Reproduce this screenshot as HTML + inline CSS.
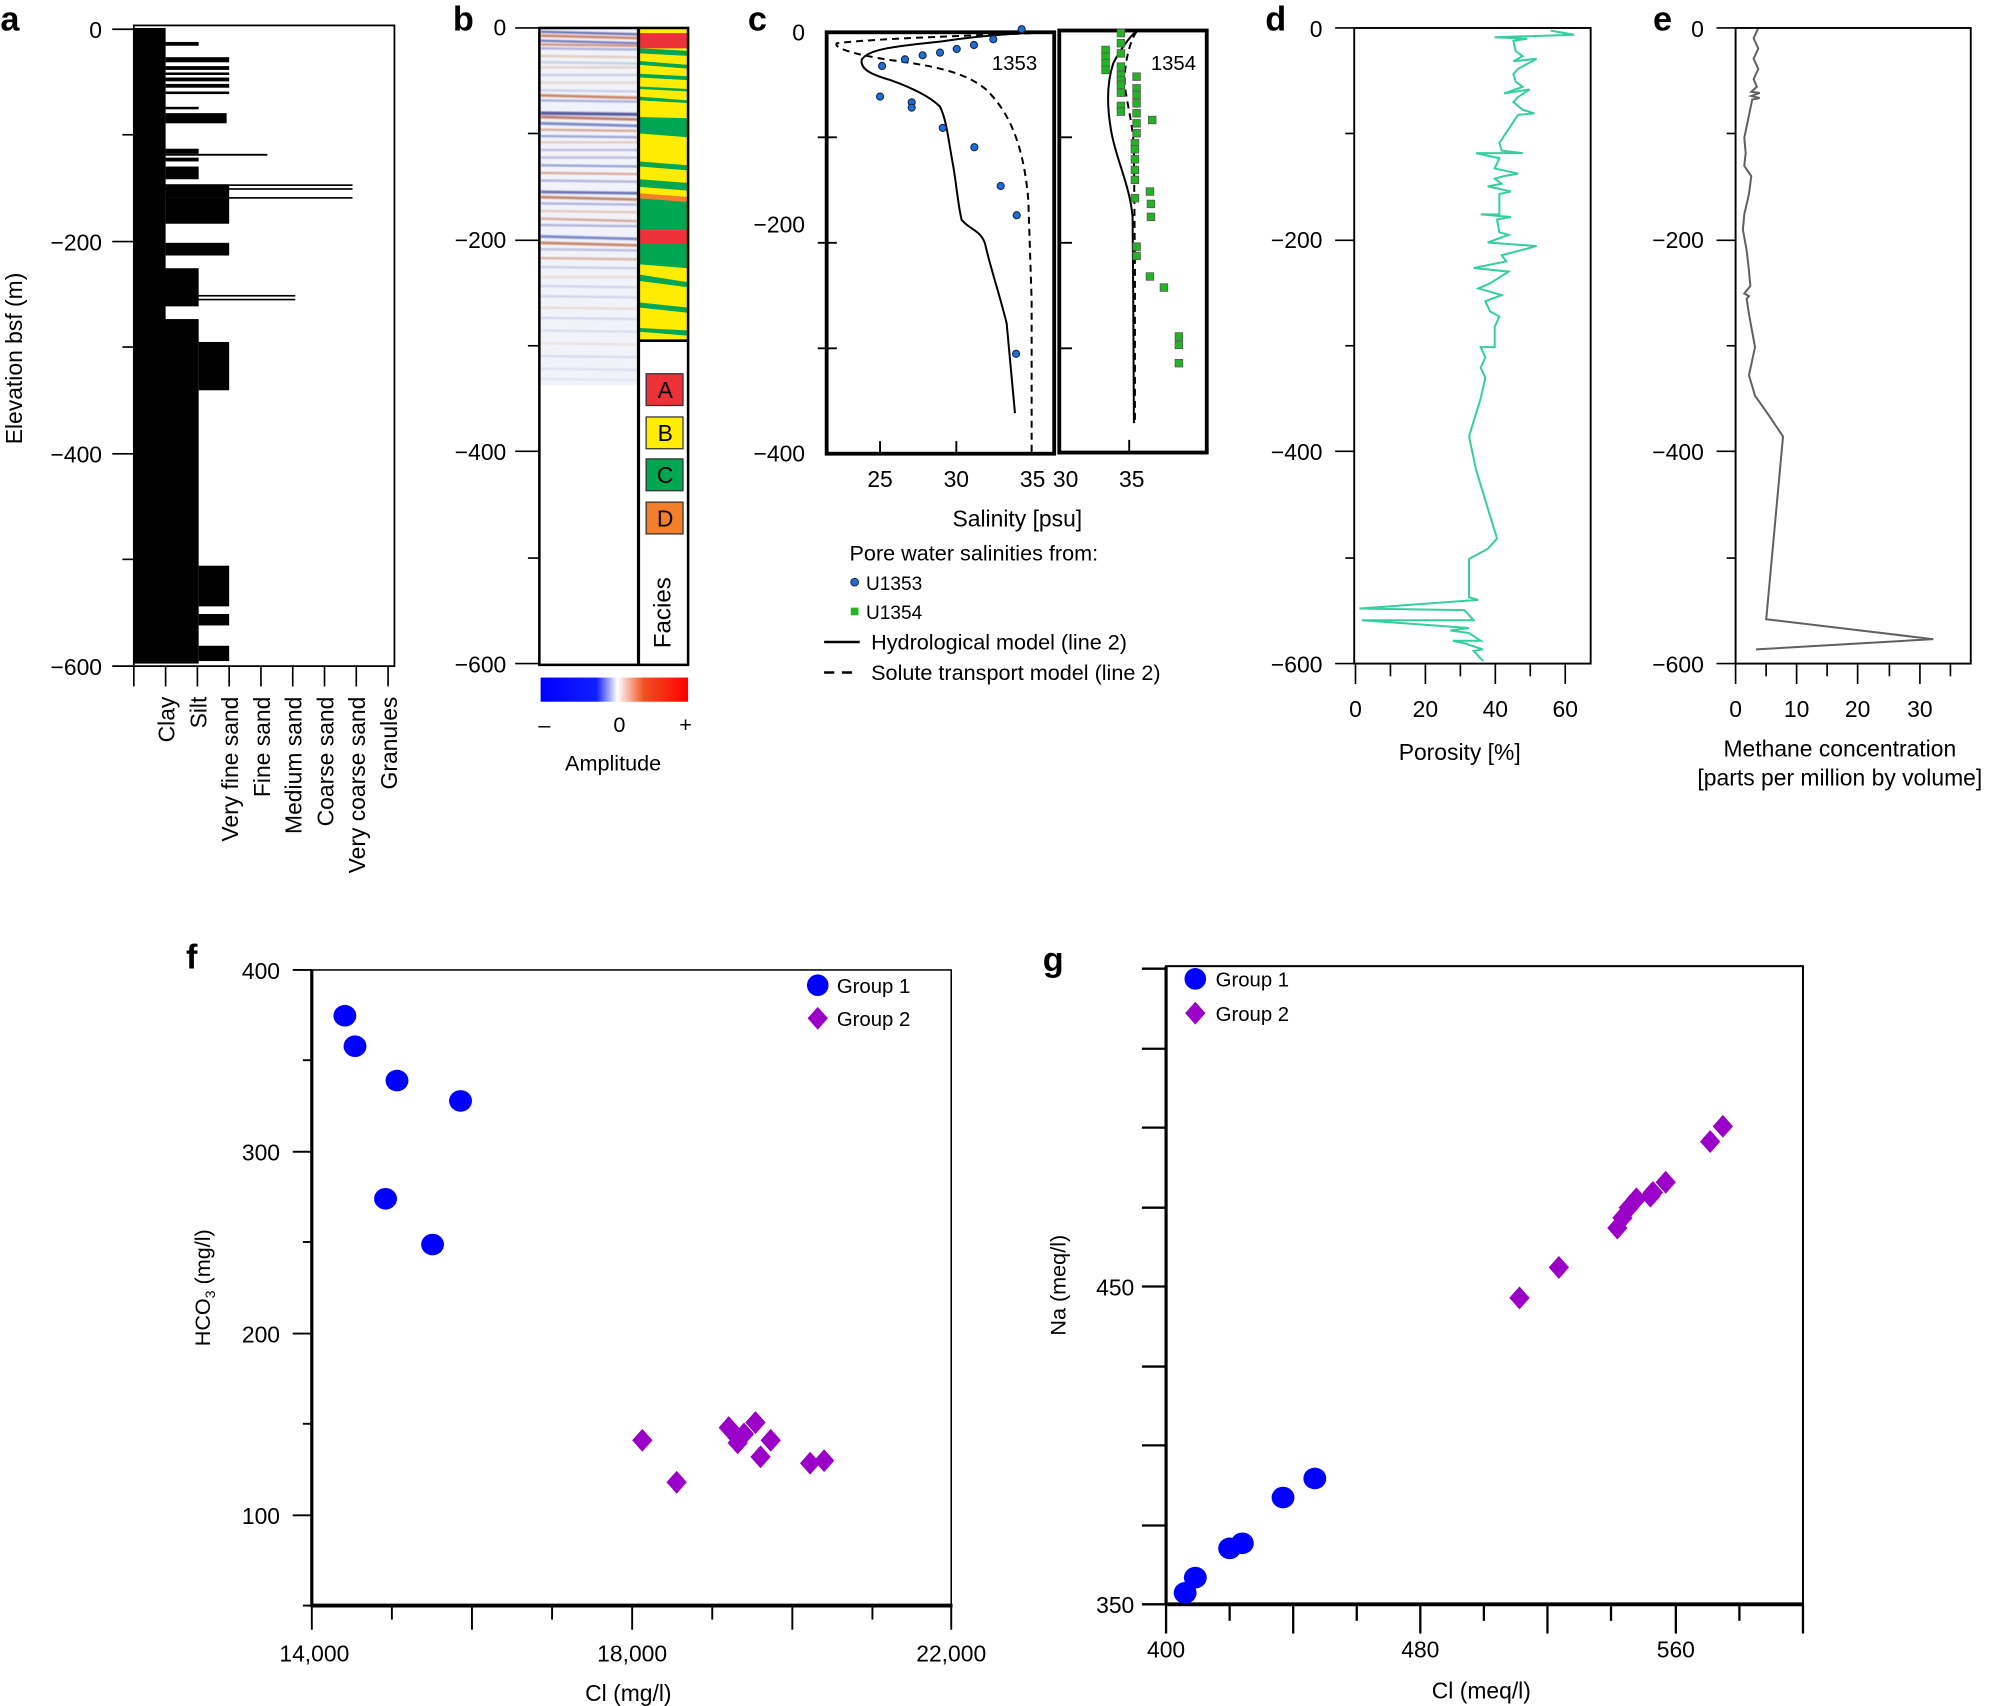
<!DOCTYPE html>
<html><head><meta charset="utf-8"><style>
html,body{margin:0;padding:0;background:#fff}
svg{display:block}
text{font-family:"Liberation Sans",Arial,sans-serif;fill:#000}
.n{font-family:"Liberation Sans Narrow","Liberation Sans",sans-serif;font-stretch:condensed}
</style></head><body>
<svg width="1994" height="1706" viewBox="0 0 1568 1342" xmlns="http://www.w3.org/2000/svg">
<defs>
<linearGradient id="cb" x1="0" x2="1" y1="0" y2="0">
<stop offset="0" stop-color="#0000ff"/><stop offset="0.38" stop-color="#1020ff"/><stop offset="0.52" stop-color="#ffffff"/><stop offset="0.7" stop-color="#f05020"/><stop offset="1" stop-color="#ff0000"/>
</linearGradient>
<filter id="bl" x="-5%" y="-5%" width="110%" height="110%"><feGaussianBlur stdDeviation="0.7"/></filter>
</defs>
<!-- letters -->
<g font-weight="bold" font-size="27">
<text x="0" y="24">a</text><text x="356" y="24">b</text><text x="588" y="24">c</text><text x="995" y="24">d</text><text x="1300" y="24">e</text><text x="146" y="762">f</text><text x="820" y="764">g</text>
</g>

<!-- PANEL A -->
<g fill="#000">
<rect x="105" y="22" width="25" height="498"/>
<rect x="105" y="251" width="51" height="271"/>
<rect x="105" y="211" width="51" height="30"/>
<rect x="130" y="33" width="26" height="3"/>
<rect x="130" y="45" width="50" height="4"/>
<rect x="130" y="52" width="50" height="3"/>
<rect x="130" y="57" width="50" height="2"/>
<rect x="130" y="61" width="50" height="3"/>
<rect x="130" y="66" width="50" height="3"/>
<rect x="130" y="72" width="50" height="2"/>
<rect x="130" y="84" width="26" height="2"/>
<rect x="130" y="89" width="48" height="8"/>
<rect x="130" y="117" width="26" height="4"/>
<rect x="130" y="121" width="80" height="1.5"/>
<rect x="130" y="124" width="26" height="3"/>
<rect x="130" y="131" width="26" height="10"/>
<rect x="130" y="145" width="50" height="10"/>
<rect x="130" y="145" width="147" height="1.3"/>
<rect x="130" y="148" width="147" height="1.3"/>
<rect x="105" y="155" width="172" height="1.3"/>
<rect x="130" y="156" width="50" height="20"/>
<rect x="130" y="191" width="50" height="10"/>
<rect x="130" y="232" width="102" height="1.3"/>
<rect x="130" y="235" width="102" height="1.3"/>
<rect x="156" y="269" width="24" height="38"/>
<rect x="156" y="445" width="24" height="32"/>
<rect x="156" y="483" width="24" height="9"/>
<rect x="156" y="508" width="24" height="12"/>
</g>
<rect x="105" y="20" width="205" height="504" fill="none" stroke="#000" stroke-width="1.4"/>
<g stroke="#000" stroke-width="1.3">
<line x1="88" y1="23" x2="105" y2="23"/><line x1="96" y1="106" x2="105" y2="106"/><line x1="88" y1="190" x2="105" y2="190"/><line x1="96" y1="273" x2="105" y2="273"/><line x1="88" y1="357" x2="105" y2="357"/><line x1="96" y1="440" x2="105" y2="440"/><line x1="88" y1="524" x2="105" y2="524"/>
<line x1="105" y1="524" x2="105" y2="540"/><line x1="130" y1="524" x2="130" y2="540"/><line x1="155" y1="524" x2="155" y2="540"/><line x1="180" y1="524" x2="180" y2="540"/><line x1="205" y1="524" x2="205" y2="540"/><line x1="230" y1="524" x2="230" y2="540"/><line x1="255" y1="524" x2="255" y2="540"/><line x1="280" y1="524" x2="280" y2="540"/><line x1="305" y1="524" x2="305" y2="540"/>
</g>
<g font-size="18" text-anchor="end">
<text x="80" y="30">0</text><text x="80" y="197">−200</text><text x="80" y="364">−400</text><text x="80" y="531">−600</text>
</g>
<text transform="translate(17,282) rotate(-90)" font-size="18" text-anchor="middle">Elevation bsf (m)</text>
<g font-size="18" text-anchor="end">
<text transform="translate(137,548) rotate(-90)">Clay</text>
<text transform="translate(162,548) rotate(-90)">Silt</text>
<text transform="translate(187,548) rotate(-90)">Very fine sand</text>
<text transform="translate(212,548) rotate(-90)">Fine sand</text>
<text transform="translate(237,548) rotate(-90)">Medium sand</text>
<text transform="translate(262,548) rotate(-90)">Coarse sand</text>
<text transform="translate(287,548) rotate(-90)">Very coarse sand</text>
<text transform="translate(312,548) rotate(-90)">Granules</text>
</g>

<!-- PANEL B -->
<rect x="425" y="23" width="77" height="280" fill="#f2f3fa"/>
<g stroke-width="1.6" fill="none" filter="url(#bl)" opacity="0.8">
<path d="M425 25 L502 27" stroke="#303a90"/><path d="M425 28 L502 30" stroke="#c0603a" stroke-width="2"/>
<path d="M425 32 L502 34" stroke="#404aa0"/><path d="M425 35 L502 36" stroke="#c06a4a"/>
<path d="M425 38 L502 39" stroke="#6870b8" stroke-opacity=".7"/><path d="M425 44 L502 45" stroke="#d09070" stroke-opacity=".6"/>
<path d="M425 49 L502 50" stroke="#8088c0" stroke-opacity=".5"/><path d="M425 53 L502 53" stroke="#d09070" stroke-opacity=".5"/>
<path d="M425 59 L502 59" stroke="#8088c0" stroke-opacity=".5"/><path d="M425 65 L502 65" stroke="#d0a080" stroke-opacity=".5"/>
<path d="M425 71 L502 72" stroke="#8088c0" stroke-opacity=".5"/><path d="M425 75 L502 77" stroke="#b8603a" stroke-width="2"/>
<path d="M425 79 L502 80" stroke="#6870b8" stroke-opacity=".7"/>
<path d="M425 89 L502 90" stroke="#252d80" stroke-width="2.5"/><path d="M425 92 L502 94" stroke="#b0503a" stroke-width="2"/>
<path d="M425 97 L502 99" stroke="#5060b0" stroke-width="2"/><path d="M425 102 L502 103" stroke="#c07050" stroke-opacity=".8"/>
<path d="M425 107 L502 108" stroke="#5a64b0" stroke-opacity=".8"/><path d="M425 112 L502 112" stroke="#d09070" stroke-opacity=".6"/>
<path d="M425 118 L502 118" stroke="#7078b8" stroke-opacity=".6"/><path d="M425 124 L502 124" stroke="#7078b8" stroke-opacity=".6"/>
<path d="M425 130 L502 131" stroke="#5060b0" stroke-opacity=".8"/><path d="M425 136 L502 137" stroke="#c07050" stroke-opacity=".8"/>
<path d="M425 142 L502 143" stroke="#6870b8" stroke-opacity=".7"/><path d="M425 151 L502 152" stroke="#3a4498" stroke-width="2"/>
<path d="M425 155 L502 157" stroke="#b0603a" stroke-width="2"/><path d="M425 160 L502 161" stroke="#6870b8" stroke-opacity=".7"/>
<path d="M425 166 L502 167" stroke="#d09070" stroke-opacity=".6"/><path d="M425 172 L502 174" stroke="#c07050" stroke-opacity=".8"/>
<path d="M425 177 L502 178" stroke="#6870b8" stroke-opacity=".7"/><path d="M425 186 L502 188" stroke="#5060b0" stroke-width="2"/>
<path d="M425 191 L502 193" stroke="#b8603a" stroke-width="2"/><path d="M425 196 L502 197" stroke="#7078b8" stroke-opacity=".6"/>
<path d="M425 203 L502 204" stroke="#c07050" stroke-opacity=".7"/><path d="M425 210 L502 211" stroke="#8088c0" stroke-opacity=".5"/>
<path d="M425 218 L502 218" stroke="#d0a080" stroke-opacity=".4"/><path d="M425 225 L502 226" stroke="#8088c0" stroke-opacity=".4"/>
<path d="M425 233 L502 234" stroke="#8088c0" stroke-opacity=".4"/><path d="M425 242 L502 243" stroke="#d0a080" stroke-opacity=".4"/>
<path d="M425 250 L502 251" stroke="#8088c0" stroke-opacity=".35"/><path d="M425 260 L502 261" stroke="#8088c0" stroke-opacity=".3"/>
<path d="M425 270 L502 271" stroke="#d0a080" stroke-opacity=".3"/><path d="M425 280 L502 281" stroke="#8088c0" stroke-opacity=".3"/>
<path d="M425 290 L502 291" stroke="#8088c0" stroke-opacity=".25"/><path d="M425 298 L502 299" stroke="#8088c0" stroke-opacity=".2"/>
</g>
<!-- facies -->
<rect x="503" y="23" width="38" height="245" fill="#ffec00"/>
<rect x="503" y="26" width="38" height="12" fill="#ec3238"/>
<g fill="#00a651">
<path d="M503 38 L541 40 L541 44 L503 42Z"/><path d="M503 48 L541 51 L541 54 L503 51Z"/><path d="M503 58 L541 60 L541 63 L503 61Z"/><path d="M503 68 L541 70 L541 72 L503 70Z"/><path d="M503 76 L541 79 L541 81 L503 79Z"/>
<path d="M503 92 L541 93 L541 108 L503 105Z"/><path d="M503 127 L541 130 L541 134 L503 131Z"/><path d="M503 141 L541 144 L541 150 L503 147Z"/>
<path d="M503 156 L541 158 L541 181 L503 181Z"/><path d="M503 191 L541 192 L541 211 L503 208Z"/>
<path d="M503 216 L541 222 L541 226 L503 221Z"/><path d="M503 238 L541 242 L541 246 L503 242Z"/><path d="M503 258 L541 260 L541 264 L503 261Z"/>
</g>
<path d="M503 152 L541 155 L541 159 L503 156Z" fill="#f47f2a"/>
<rect x="503" y="181" width="38" height="11" fill="#ec3238"/>
<rect x="424" y="22" width="117" height="501" fill="none" stroke="#000" stroke-width="2"/>
<line x1="502" y1="22" x2="502" y2="523" stroke="#000" stroke-width="2.5"/>
<line x1="502" y1="268" x2="541" y2="268" stroke="#000" stroke-width="2"/>
<g stroke="#333" stroke-width="1">
<rect x="508" y="294" width="29" height="25" fill="#ec3238"/><rect x="508" y="328" width="29" height="25" fill="#ffec00"/><rect x="508" y="361" width="29" height="25" fill="#00a651"/><rect x="508" y="395" width="29" height="25" fill="#f47f2a"/>
</g>
<g font-size="18" text-anchor="middle"><text x="523" y="313">A</text><text x="523" y="347">B</text><text x="523" y="380">C</text><text x="523" y="414">D</text></g>
<text transform="translate(527,482) rotate(-90)" font-size="19" text-anchor="middle">Facies</text>
<g stroke="#000" stroke-width="1.3">
<line x1="405" y1="22" x2="424" y2="22"/><line x1="415" y1="105" x2="424" y2="105"/><line x1="405" y1="189" x2="424" y2="189"/><line x1="415" y1="272" x2="424" y2="272"/><line x1="405" y1="355" x2="424" y2="355"/><line x1="415" y1="439" x2="424" y2="439"/><line x1="405" y1="522" x2="424" y2="522"/>
</g>
<g font-size="18" text-anchor="end"><text x="398" y="28">0</text><text x="398" y="195">−200</text><text x="398" y="362">−400</text><text x="398" y="529">−600</text></g>
<rect x="425" y="533" width="116" height="19" fill="url(#cb)"/>
<g font-size="17" text-anchor="middle"><text x="428" y="576">–</text><text x="487" y="576">0</text><text x="539" y="576">+</text><text x="482" y="606">Amplitude</text></g>

<!-- PANEL C -->
<rect x="650" y="25.4" width="179" height="331.5" fill="none" stroke="#000" stroke-width="3"/>
<rect x="833" y="24" width="116" height="332" fill="none" stroke="#000" stroke-width="3"/>
<g stroke="#000" stroke-width="1.5">
<line x1="643" y1="108" x2="658" y2="108"/><line x1="643" y1="191" x2="658" y2="191"/><line x1="643" y1="274" x2="658" y2="274"/>
<line x1="833" y1="108" x2="843" y2="108"/><line x1="833" y1="191" x2="843" y2="191"/><line x1="833" y1="274" x2="843" y2="274"/>
<line x1="692" y1="357" x2="692" y2="347"/><line x1="752" y1="357" x2="752" y2="347"/><line x1="888" y1="356" x2="888" y2="346"/>
</g>
<g transform="translate(581.9,0) scale(0.2621)" fill="none" stroke="#000">
<path vector-effect="non-scaling-stroke" stroke-width="2" d="M945 95 C800 100 700 110 600 125 C450 140 380 150 365 180 C360 210 400 225 450 240 C520 265 570 290 600 320 C620 360 625 420 640 500 C650 560 655 620 665 660 C690 690 720 690 735 730 C750 800 775 870 800 970 L825 1240"/>
<path vector-effect="non-scaling-stroke" stroke-width="2" stroke-dasharray="7,5" d="M945 97 C750 105 400 115 290 130 C280 145 350 165 450 180 C600 200 680 220 740 270 C800 330 850 420 865 600 L875 900 L875 1360"/>
<path vector-effect="non-scaling-stroke" stroke-width="2" d="M1188 95 C1170 110 1140 150 1120 190 C1100 250 1100 320 1115 400 C1130 480 1170 560 1178 650 L1180 900 L1182 1270"/>
<path vector-effect="non-scaling-stroke" stroke-width="2" stroke-dasharray="7,5" d="M1190 95 C1170 120 1150 200 1155 260 C1165 330 1180 380 1182 450 L1185 800 L1185 1270"/>
</g>
<g fill="#1f6fd0" stroke="#102050" stroke-width="0.8">
<circle cx="803.4" cy="23" r="2.8"/><circle cx="781.1" cy="30.9" r="2.8"/><circle cx="765.9" cy="35.4" r="2.8"/><circle cx="752.3" cy="38.5" r="2.8"/><circle cx="739.2" cy="41.4" r="2.8"/><circle cx="725.5" cy="43.5" r="2.8"/><circle cx="711.6" cy="46.7" r="2.8"/><circle cx="693.6" cy="51.9" r="2.8"/><circle cx="692" cy="76" r="2.8"/><circle cx="716.9" cy="80.5" r="2.8"/><circle cx="716.9" cy="84.7" r="2.8"/><circle cx="741.3" cy="100.6" r="2.8"/><circle cx="766.2" cy="115.8" r="2.8"/><circle cx="786.9" cy="146.3" r="2.8"/><circle cx="799.5" cy="169.3" r="2.8"/><circle cx="799" cy="278.3" r="2.8"/>
</g>
<g fill="#22b422" stroke="#555" stroke-width="0.6">
<rect x="878.5" y="23" width="6" height="6"/><rect x="878.5" y="31" width="6" height="6"/><rect x="878.5" y="39" width="6" height="6"/>
<rect x="866.4" y="36.3" width="6" height="6"/><rect x="866.4" y="41.6" width="6" height="6"/><rect x="866.4" y="46.8" width="6" height="6"/><rect x="866.4" y="52" width="6" height="6"/>
<rect x="878.5" y="49.4" width="6" height="6"/><rect x="878.5" y="56" width="6" height="6"/><rect x="878.5" y="60" width="6" height="6"/><rect x="878.5" y="63.8" width="6" height="6"/><rect x="878.5" y="69.9" width="6" height="6"/><rect x="878.5" y="80.3" width="6" height="6"/><rect x="878.5" y="84.8" width="6" height="6"/>
<rect x="890.8" y="57.3" width="6" height="6"/><rect x="890.8" y="66.5" width="6" height="6"/><rect x="890.8" y="71.7" width="6" height="6"/><rect x="890.8" y="78.3" width="6" height="6"/><rect x="890.8" y="86.1" width="6" height="6"/><rect x="890.8" y="94" width="6" height="6"/><rect x="890.8" y="101.8" width="6" height="6"/>
<rect x="889.5" y="109.7" width="6" height="6"/><rect x="889.5" y="114.4" width="6" height="6"/><rect x="889.5" y="122.3" width="6" height="6"/><rect x="889.5" y="130.7" width="6" height="6"/><rect x="889.5" y="138.5" width="6" height="6"/><rect x="889.5" y="152.9" width="6" height="6"/>
<rect x="903.1" y="91.4" width="6" height="6"/><rect x="901.3" y="147.7" width="6" height="6"/><rect x="902.1" y="157.4" width="6" height="6"/><rect x="902.1" y="167.6" width="6" height="6"/>
<rect x="890.8" y="191" width="6" height="6"/><rect x="890.8" y="198.3" width="6" height="6"/><rect x="901.3" y="214.5" width="6" height="6"/><rect x="912.3" y="223.2" width="6" height="6"/>
<rect x="924.1" y="261.7" width="6" height="6"/><rect x="924.1" y="268.3" width="6" height="6"/><rect x="924.1" y="282.7" width="6" height="6"/>
</g>
<g font-size="16"><text x="780" y="55">1353</text><text x="905" y="55">1354</text></g>
<g font-size="18" text-anchor="end"><text x="633" y="32">0</text><text x="633" y="183">−200</text><text x="633" y="363">−400</text></g>
<g font-size="18" text-anchor="middle"><text x="692" y="383">25</text><text x="752" y="383">30</text><text x="812" y="383">35</text><text x="838" y="383">30</text><text x="890" y="383">35</text>
<text x="800" y="414">Salinity [psu]</text></g>
<g font-size="17">
<text x="668" y="441">Pore water salinities from:</text>
<circle cx="672" cy="458" r="3" fill="#1f6fd0" stroke="#102050" stroke-width=".8"/><text x="681" y="464" font-size="15">U1353</text>
<rect x="669" y="478" width="6" height="6" fill="#22b422"/><text x="681" y="487" font-size="15">U1354</text>
<line x1="648" y1="505" x2="676" y2="505" stroke="#000" stroke-width="2"/><text x="685" y="511">Hydrological model (line 2)</text>
<line x1="648" y1="529" x2="676" y2="529" stroke="#000" stroke-width="2" stroke-dasharray="8,6"/><text x="685" y="535">Solute transport model (line 2)</text>
</g>

<!-- PANEL D -->
<rect x="1065" y="22" width="186" height="500" fill="none" stroke="#000" stroke-width="1.5"/>
<g transform="translate(992,0) scale(0.367,0.4016)" fill="none">
<path vector-effect="non-scaling-stroke" stroke="#35d09a" stroke-width="2" d="M620 60 L670 68 L500 73 L570 76 L540 80 L545 100 L560 110 L540 120 L590 115 L550 135 L540 145 L545 160 L560 170 L520 183 L575 175 L550 190 L540 200 L560 215 L585 222 L550 225 L510 280 L515 295 L560 300 L460 300 L510 310 L500 330 L550 340 L520 345 L500 350 L515 360 L485 365 L520 372 L535 375 L510 380 L510 420 L470 420 L535 425 L505 430 L510 455 L530 460 L485 475 L590 482 L515 500 L525 512 L455 525 L530 532 L490 555 L465 565 L515 578 L480 590 L490 610 L510 620 L500 640 L500 680 L470 680 L480 700 L470 720 L480 740 L470 780 L445 855 L460 920 L480 980 L505 1055 L485 1075 L445 1095 L445 1170 L465 1175 L210 1192 L435 1195 L455 1215 L215 1215 L445 1230 L405 1235 L445 1240 L470 1255 L410 1255 L435 1260 L475 1272 L455 1275 L475 1295"/>
<path vector-effect="non-scaling-stroke" stroke="#606060" stroke-width="2" d="M1065 55 L1055 75 L1065 95 L1055 115 L1065 135 L1055 155 L1062 170 L1050 180 L1068 182 L1050 188 L1068 192 L1052 195 L1035 270 L1038 300 L1035 325 L1050 345 L1045 380 L1035 420 L1032 450 L1040 490 L1045 530 L1048 560 L1035 575 L1045 580 L1040 585 L1045 615 L1058 680 L1045 735 L1058 775 L1085 810 L1118 855 L1082 1213 L1440 1252 L1060 1272"/>
</g>
<g stroke="#000" stroke-width="1.3">
<line x1="1050" y1="22" x2="1065" y2="22"/><line x1="1058" y1="105" x2="1065" y2="105"/><line x1="1050" y1="189" x2="1065" y2="189"/><line x1="1058" y1="272" x2="1065" y2="272"/><line x1="1050" y1="355" x2="1065" y2="355"/><line x1="1058" y1="439" x2="1065" y2="439"/><line x1="1050" y1="522" x2="1065" y2="522"/>
<line x1="1066" y1="522" x2="1066" y2="538"/><line x1="1093.5" y1="522" x2="1093.5" y2="532"/><line x1="1121" y1="522" x2="1121" y2="538"/><line x1="1148.5" y1="522" x2="1148.5" y2="532"/><line x1="1176" y1="522" x2="1176" y2="538"/><line x1="1203.5" y1="522" x2="1203.5" y2="532"/><line x1="1231" y1="522" x2="1231" y2="538"/>
</g>
<g font-size="18" text-anchor="end"><text x="1040" y="29">0</text><text x="1040" y="195">−200</text><text x="1040" y="362">−400</text><text x="1040" y="529">−600</text></g>
<g font-size="18" text-anchor="middle"><text x="1066" y="564">0</text><text x="1121" y="564">20</text><text x="1176" y="564">40</text><text x="1231" y="564">60</text><text x="1148" y="598">Porosity [%]</text></g>

<!-- PANEL E -->
<rect x="1365" y="22" width="185" height="500" fill="none" stroke="#000" stroke-width="1.5"/>
<g stroke="#000" stroke-width="1.3">
<line x1="1350" y1="22" x2="1365" y2="22"/><line x1="1358" y1="105" x2="1365" y2="105"/><line x1="1350" y1="189" x2="1365" y2="189"/><line x1="1358" y1="272" x2="1365" y2="272"/><line x1="1350" y1="355" x2="1365" y2="355"/><line x1="1358" y1="439" x2="1365" y2="439"/><line x1="1350" y1="522" x2="1365" y2="522"/>
<line x1="1365" y1="522" x2="1365" y2="538"/><line x1="1389" y1="522" x2="1389" y2="532"/><line x1="1413" y1="522" x2="1413" y2="538"/><line x1="1437" y1="522" x2="1437" y2="532"/><line x1="1461" y1="522" x2="1461" y2="538"/><line x1="1486" y1="522" x2="1486" y2="532"/><line x1="1510" y1="522" x2="1510" y2="538"/><line x1="1534" y1="522" x2="1534" y2="532"/>
</g>
<g font-size="18" text-anchor="end"><text x="1340" y="29">0</text><text x="1340" y="195">−200</text><text x="1340" y="362">−400</text><text x="1340" y="529">−600</text></g>
<g font-size="18" text-anchor="middle"><text x="1365" y="564">0</text><text x="1413" y="564">10</text><text x="1461" y="564">20</text><text x="1510" y="564">30</text>
<text x="1447" y="595">Methane concentration</text><text x="1447" y="618">[parts per million by volume]</text></g>

<!-- PANEL F -->
<rect x="245" y="763" width="503" height="500" fill="none" stroke="#000" stroke-width="1.2"/>
<line x1="245" y1="763" x2="245" y2="1264" stroke="#000" stroke-width="2.5"/>
<line x1="245" y1="1263" x2="749" y2="1263" stroke="#000" stroke-width="3"/>
<g stroke="#000" stroke-width="1.5">
<line x1="230" y1="763" x2="245" y2="763"/><line x1="238" y1="834" x2="245" y2="834"/><line x1="230" y1="906" x2="245" y2="906"/><line x1="238" y1="977" x2="245" y2="977"/><line x1="230" y1="1049" x2="245" y2="1049"/><line x1="238" y1="1120" x2="245" y2="1120"/><line x1="230" y1="1192" x2="245" y2="1192"/><line x1="238" y1="1263" x2="245" y2="1263"/>
<line x1="245" y1="1263" x2="245" y2="1282"/><line x1="308" y1="1263" x2="308" y2="1274"/><line x1="371" y1="1263" x2="371" y2="1282"/><line x1="434" y1="1263" x2="434" y2="1274"/><line x1="497" y1="1263" x2="497" y2="1282"/><line x1="560" y1="1263" x2="560" y2="1274"/><line x1="623" y1="1263" x2="623" y2="1282"/><line x1="686" y1="1263" x2="686" y2="1274"/><line x1="748" y1="1263" x2="748" y2="1282"/>
</g>
<g class="n" font-size="18" text-anchor="end"><text x="220" y="770">400</text><text x="220" y="913">300</text><text x="220" y="1056">200</text><text x="220" y="1199">100</text></g>
<g class="n" font-size="18" text-anchor="middle"><text x="247" y="1307">14,000</text><text x="497" y="1307">18,000</text><text x="748" y="1307">22,000</text><text x="494" y="1338">Cl (mg/l)</text></g>
<text transform="translate(165,1013) rotate(-90)" font-size="17" text-anchor="middle">HCO<tspan font-size="11" dy="4">3</tspan><tspan dy="-4"> (mg/l)</tspan></text>
<g fill="#0000ff">
<ellipse cx="271" cy="799" rx="9" ry="8.5"/><ellipse cx="279" cy="823" rx="9" ry="8.5"/><ellipse cx="312" cy="850" rx="9" ry="8.5"/><ellipse cx="362" cy="866" rx="9" ry="8.5"/><ellipse cx="303" cy="943" rx="9" ry="8.5"/><ellipse cx="340" cy="979" rx="9" ry="8.5"/>
<ellipse cx="643" cy="775" rx="8.5" ry="8.5"/>
</g>
<g fill="#9a00c8">
<path d="M505 1124 l8 9 l-8 9 l-8 -9z"/><path d="M532 1157 l8 9 l-8 9 l-8 -9z"/><path d="M573 1114 l8 9 l-8 9 l-8 -9z"/><path d="M580 1126 l8 9 l-8 9 l-8 -9z"/><path d="M585 1119 l8 9 l-8 9 l-8 -9z"/><path d="M594 1110 l8 9 l-8 9 l-8 -9z"/><path d="M598 1137 l8 9 l-8 9 l-8 -9z"/><path d="M606 1124 l8 9 l-8 9 l-8 -9z"/><path d="M637 1142 l8 9 l-8 9 l-8 -9z"/><path d="M648 1140 l8 9 l-8 9 l-8 -9z"/><path d="M580 1122 l8 9 l-8 9 l-8 -9z"/>
<path d="M643 792 l8 9 l-8 9 l-8 -9z"/>
</g>
<g class="n" font-size="16"><text x="658" y="781">Group 1</text><text x="658" y="807">Group 2</text></g>

<!-- PANEL G -->
<rect x="917" y="760" width="501" height="502" fill="none" stroke="#000" stroke-width="1.6"/>
<line x1="917" y1="1262" x2="1418" y2="1262" stroke="#000" stroke-width="3"/>
<line x1="917" y1="760" x2="917" y2="1262" stroke="#000" stroke-width="2.5"/>
<g stroke="#000" stroke-width="1.8">
<line x1="898" y1="1262" x2="917" y2="1262"/><line x1="898" y1="1200" x2="917" y2="1200"/><line x1="898" y1="1137" x2="917" y2="1137"/><line x1="898" y1="1075" x2="917" y2="1075"/><line x1="898" y1="1012" x2="917" y2="1012"/><line x1="898" y1="950" x2="917" y2="950"/><line x1="898" y1="887" x2="917" y2="887"/><line x1="898" y1="825" x2="917" y2="825"/><line x1="898" y1="762" x2="917" y2="762"/>
<line x1="917" y1="1262" x2="917" y2="1285"/><line x1="967" y1="1262" x2="967" y2="1275"/><line x1="1017" y1="1262" x2="1017" y2="1285"/><line x1="1067" y1="1262" x2="1067" y2="1275"/><line x1="1117" y1="1262" x2="1117" y2="1285"/><line x1="1167" y1="1262" x2="1167" y2="1275"/><line x1="1217" y1="1262" x2="1217" y2="1285"/><line x1="1267" y1="1262" x2="1267" y2="1275"/><line x1="1318" y1="1262" x2="1318" y2="1285"/><line x1="1368" y1="1262" x2="1368" y2="1275"/><line x1="1418" y1="1262" x2="1418" y2="1285"/>
</g>
<g class="n" font-size="18" text-anchor="end"><text x="892" y="1269">350</text><text x="892" y="1019">450</text></g>
<g class="n" font-size="18" text-anchor="middle"><text x="917" y="1304">400</text><text x="1117" y="1304">480</text><text x="1318" y="1304">560</text><text x="1165" y="1336">Cl (meq/l)</text></g>
<text transform="translate(838,1011) rotate(-90)" font-size="17" text-anchor="middle">Na (meq/l)</text>
<g fill="#0000ff">
<ellipse cx="932" cy="1253" rx="9" ry="8.5"/><ellipse cx="940" cy="1241" rx="9" ry="8.5"/><ellipse cx="967" cy="1218" rx="9" ry="8.5"/><ellipse cx="977" cy="1214" rx="9" ry="8.5"/><ellipse cx="1009" cy="1178" rx="9" ry="8.5"/><ellipse cx="1034" cy="1163" rx="9" ry="8.5"/>
<ellipse cx="940" cy="770" rx="8.5" ry="8.5"/>
</g>
<g fill="#9a00c8">
<path d="M1195 1012 l8 9 l-8 9 l-8 -9z"/><path d="M1226 988 l8 9 l-8 9 l-8 -9z"/><path d="M1272 957 l8 9 l-8 9 l-8 -9z"/><path d="M1276 949 l8 9 l-8 9 l-8 -9z"/><path d="M1281 941 l8 9 l-8 9 l-8 -9z"/><path d="M1287 934 l8 9 l-8 9 l-8 -9z"/><path d="M1298 932 l8 9 l-8 9 l-8 -9z"/><path d="M1300 929 l8 9 l-8 9 l-8 -9z"/><path d="M1310 921 l8 9 l-8 9 l-8 -9z"/><path d="M1345 889 l8 9 l-8 9 l-8 -9z"/><path d="M1355 877 l8 9 l-8 9 l-8 -9z"/>
<path d="M940 788 l8 9 l-8 9 l-8 -9z"/>
</g>
<g class="n" font-size="16"><text x="956" y="776">Group 1</text><text x="956" y="803">Group 2</text></g>
</svg>
</body></html>
